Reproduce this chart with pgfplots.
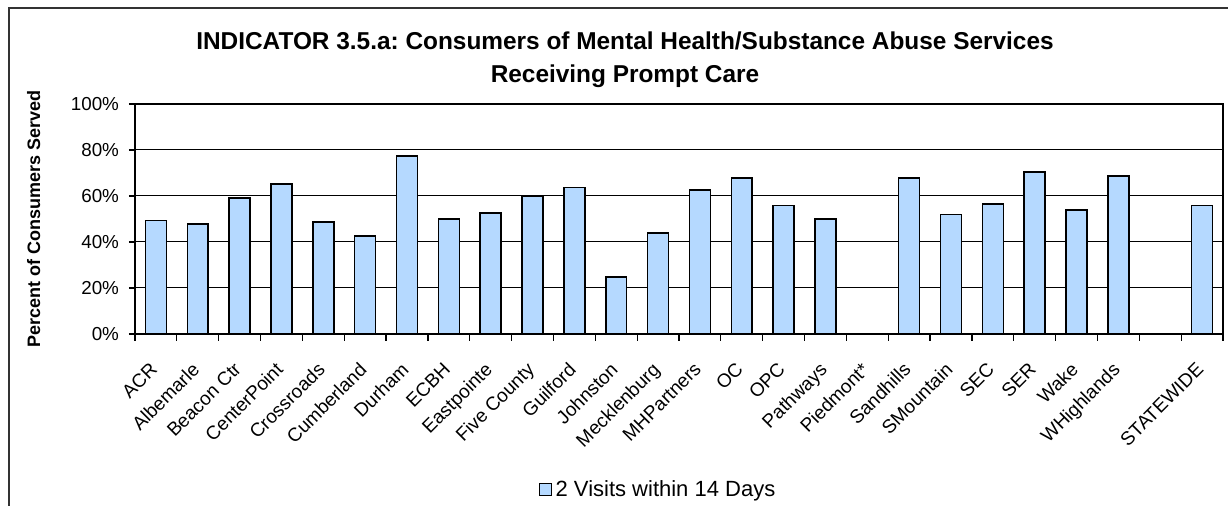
\documentclass[border=0pt]{standalone}
\usepackage{fontspec}
\setmainfont{Liberation Sans}
\usepackage{pgfplots}
\pgfplotsset{compat=1.18}
\definecolor{barblue}{RGB}{181,217,255}
\frenchspacing
\begin{document}
\begin{tikzpicture}
\useasboundingbox (0,0) rectangle (614pt,253pt);
\draw[line width=1pt, black!80] (4.5pt,-20pt) -- (4.5pt,249pt) -- (700pt,249pt);
\node[font=\bfseries\fontsize{12.2}{16.5}\selectfont, align=center] at (312.5pt,223pt)
  {INDICATOR 3.5.a: Consumers of Mental Health/Substance Abuse Services\\Receiving Prompt Care};
\begin{axis}[
  at={(67.5pt,86pt)}, anchor=south west,
  width=544pt, height=115pt, scale only axis,
  ybar, bar width=0.5,
  ymin=0, ymax=100,
  xmin=-0.5, xmax=25.5,
  ytick={0,20,40,60,80,100},
  yticklabels={0\%,20\%,40\%,60\%,80\%,100\%},
  xtick={0,...,25},
  xticklabels={ACR,Albemarle,Beacon Ctr,CenterPoint,Crossroads,Cumberland,Durham,ECBH,Eastpointe,Five County,Guilford,Johnston,Mecklenburg,MHPartners,OC,OPC,Pathways,Piedmont*,Sandhills,SMountain,SEC,SER,Wake,WHighlands,{},STATEWIDE},
  minor xtick={-0.5,0.5,...,25.5},
  tick pos=left,
  major x tick style={draw=none},
  minor x tick style={black, line width=0.6pt},
  tick align=outside,
  minor tick length=3.5pt,
  major tick length=3pt,
  ytick style={black, line width=0.6pt},
  ymajorgrids,
  grid style={black, line width=0.5pt},
  axis line style={black, line width=0.75pt},
  yticklabel style={font=\fontsize{9.4}{11}\selectfont, xshift=-1.5pt},
  xticklabel style={font=\fontsize{9.5}{11}\selectfont, anchor=north east, inner sep=1pt, xshift=-3.5pt, yshift=-9pt, rotate=45},
  ylabel={\bfseries Percent of Consumers Served},
  ylabel style={at={(rel axis cs:-0.093,0.5)}, anchor=center, font=\fontsize{9}{10}\selectfont},
  legend style={at={(0.4816,-0.678)}, anchor=center, draw=none, font=\fontsize{11}{13}\selectfont},
  legend image code/.code={\draw[fill=barblue, draw=black, line width=0.5pt] (0pt,-3pt) rectangle (6pt,3pt);},
]
\addplot[fill=barblue, draw=black, line width=0.75pt] coordinates {
(0,49.3) (1,47.8) (2,59.2) (3,65.2) (4,48.6) (5,42.5) (6,77.3) (7,49.9) (8,52.6) (9,59.8)
(10,63.7) (11,24.7) (12,43.9) (13,62.6) (14,67.9) (15,55.9) (16,49.9) (18,67.9) (19,51.9)
(20,56.6) (21,70.5) (22,53.9) (23,68.6) (25,55.8)
};
\addlegendentry{2 Visits within 14 Days}
\end{axis}
\end{tikzpicture}
\end{document}
